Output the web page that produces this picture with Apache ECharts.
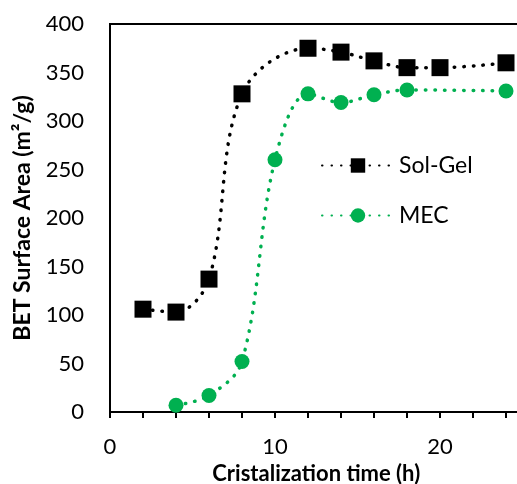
<!DOCTYPE html>
<html><head><meta charset="utf-8">
<script src="https://cdn.jsdelivr.net/npm/echarts@6/dist/echarts.min.js"></script>
<style>html,body{margin:0;padding:0;background:#fff}#c{width:517px;height:484px}</style>
</head><body><div id="c"></div>
<script>
const solGelX = [2, 4, 6, 8, 12, 14, 16, 18, 20, 24];
const solGelY = [106, 103, 137, 328, 375, 371, 362, 355, 355, 360];
const mecX = [4, 6, 8, 10, 12, 14, 16, 18, 24];
const mecY = [7, 17, 52, 260, 328, 319, 327, 332, 331];
const xTicks = [0, 10, 20];
const yTicks = [0, 50, 100, 150, 200, 250, 300, 350, 400];

const font = 'Lato, "Open Sans", sans-serif';
const chart = echarts.init(document.getElementById('c'));
const dot = {width: 3.5, type: [0.5, 9], cap: 'round'};
chart.setOption({
  animation: false,
  grid: {left: 110, top: 24, width: 412.5, height: 388, show: true, borderColor: '#000', borderWidth: 2,
    outerBoundsMode: 'none', containLabel: false},
  legend: {
    orient: 'vertical', left: 316, top: 149, itemGap: 27, itemWidth: 72, itemHeight: 18,
    textStyle: {fontFamily: font, fontSize: 23, color: '#000', padding: [0, 0, 0, 0]},
    data: ['Sol-Gel', 'MEC']
  },
  xAxis: {
    type: 'value', min: 0, max: 25, interval: 2,
    name: 'Cristalization time (h)', nameLocation: 'middle', nameGap: 50,
    nameTextStyle: {fontFamily: font, fontSize: 22, fontWeight: 'bold', color: '#000'},
    axisLine: {onZero: false, lineStyle: {color: '#000', width: 2}},
    axisTick: {show: true, length: 6, lineStyle: {color: '#000', width: 2}},
    splitLine: {show: false},
    axisLabel: {
      fontFamily: font, fontSize: 22, color: '#000', margin: 24,
      customValues: xTicks, showMaxLabel: true
    }
  },
  yAxis: {
    type: 'value', min: 0, max: 400, interval: 50,
    name: 'BET Surface Area (m²/g)', nameLocation: 'middle', nameGap: 76,
    nameTextStyle: {fontFamily: font, fontSize: 23, fontWeight: 'bold', color: '#000'},
    axisLine: {show: true, lineStyle: {color: '#000', width: 2}},
    axisTick: {show: false},
    splitLine: {show: false},
    axisLabel: {fontFamily: font, fontSize: 22, color: '#000', margin: 26,
      customValues: yTicks}
  },
  series: [
    {
      name: 'Sol-Gel', type: 'line', smooth: 0.35,
      data: solGelX.map((x, i) => [x, solGelY[i]]),
      symbol: 'rect', symbolSize: 17,
      itemStyle: {color: '#000'},
      lineStyle: Object.assign({color: '#000'}, dot)
    },
    {
      name: 'MEC', type: 'line', smooth: 0.35,
      data: mecX.map((x, i) => [x, mecY[i]]),
      symbol: 'circle', symbolSize: 15,
      itemStyle: {color: '#00B050'},
      lineStyle: Object.assign({color: '#00B050'}, dot)
    }
  ]
});
</script></body></html>
